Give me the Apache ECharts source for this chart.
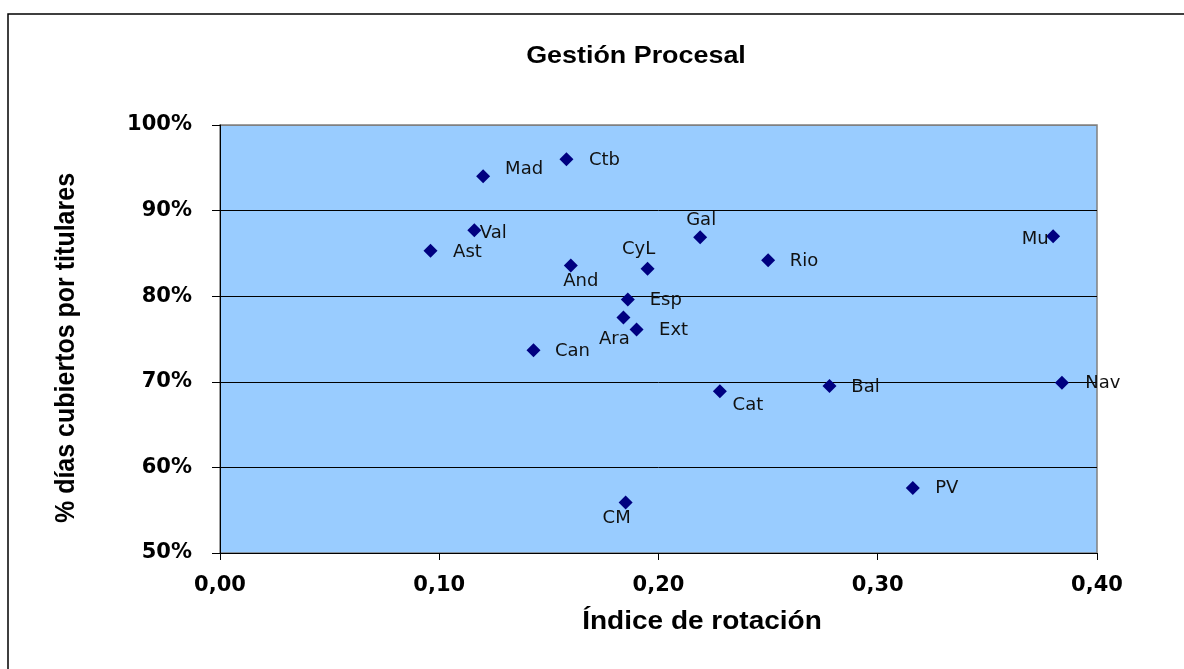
<!DOCTYPE html>
<html>
<head>
<meta charset="utf-8">
<script src="https://cdn.jsdelivr.net/npm/echarts@6/dist/echarts.min.js"></script>
<style>html,body{margin:0;padding:0;background:#fff}#c{width:1184px;height:669px}</style>
</head>
<body>
<div id="c"></div>
<script>
// ---- data ----
const regions = ['Mad','Ctb','Val','Ast','And','CyL','Gal','Rio','Mu','Esp','Ara','Ext','Can','Cat','Bal','Nav','CM','PV'];
const rotationIndex = [0.120,0.158,0.116,0.096,0.160,0.195,0.219,0.250,0.380,0.186,0.184,0.190,0.143,0.228,0.278,0.384,0.185,0.316];
const coveredDays = [94.0,96.0,87.7,85.3,83.6,83.2,86.9,84.2,87.0,79.6,77.5,76.1,73.7,68.9,69.5,69.9,55.9,57.6];
const chartTitle = 'Gestión Procesal';
const xTitle = 'Índice de rotación';
const yTitle = '% días cubiertos por titulares';

// ---- label placement (style only): label centre relative to marker centre ----
const labelOffsets = {
  Mad:[41,-7], Ctb:[38,1], Val:[19,3], Ast:[37,1], And:[10,16], CyL:[-9,-19],
  Gal:[1,-17], Rio:[36,1], Mu:[-18,3], Esp:[38,1], Ara:[-9,22], Ext:[37,1],
  Can:[39,1], Cat:[28,14], Bal:[36,1], Nav:[41,1], CM:[-9,16], PV:[34,0]
};
const SYM = 14;

const seriesData = regions.map((n, i) => ({
  name: n,
  value: [rotationIndex[i], coveredDays[i]],
  label: { position: [SYM / 2 + labelOffsets[n][0], SYM / 2 + labelOffsets[n][1]] }
}));

const chart = echarts.init(document.getElementById('c'), null, {renderer: 'canvas'});
chart.setOption({
  backgroundColor: '#ffffff',
  animation: false,
  grid: {
    left: 220, right: 87, top: 125, bottom: 116,
    show: true, backgroundColor: '#99CCFF', borderColor: '#808080', borderWidth: 1.5
  },
  xAxis: {
    type: 'value', min: 0, max: 0.4, interval: 0.1,
    axisLine: { show: true, onZero: false, lineStyle: { color: '#000', width: 1 } },
    axisTick: { show: true, inside: false, length: 7, lineStyle: { color: '#000' } },
    splitLine: { show: false },
    axisLabel: {
      margin: 22, color: '#000', fontFamily: 'DejaVu Sans', fontWeight: 'bold', fontSize: 21,
      formatter: v => v.toFixed(2).replace('.', ',')
    }
  },
  yAxis: {
    type: 'value', min: 50, max: 100, interval: 10,
    axisLine: { show: true, onZero: false, lineStyle: { color: '#000', width: 1 } },
    axisTick: { show: true, inside: false, length: 8, lineStyle: { color: '#000' } },
    splitLine: { show: true, lineStyle: { color: ['#000','#000','#000','#000','#000','#808080'], width: 1 } },
    axisLabel: {
      margin: 28, color: '#000', fontFamily: 'DejaVu Sans', fontWeight: 'bold', fontSize: 21,
      formatter: v => Math.round(v) + '%'
    }
  },
  series: [{
    type: 'scatter',
    symbol: 'diamond',
    symbolSize: SYM,
    itemStyle: { color: '#000080', opacity: 1 },
    label: {
      show: true, formatter: '{b}',
      color: '#111', fontFamily: 'DejaVu Sans', fontSize: 18,
      align: 'center', verticalAlign: 'middle'
    },
    labelLayout: { hideOverlap: false },
    data: seriesData
  }],
  graphic: [
    { type: 'rect', shape: { x: 8, y: 14, width: 1200, height: 700 },
      style: { fill: 'none', stroke: '#000', lineWidth: 1.5 }, silent: true, z: -10 },
    { type: 'text', x: 636, y: 56, scaleX: 1.12,
      style: { text: chartTitle, x: 0, y: 0, fill: '#000', font: 'bold 24px "Liberation Sans", Arial, sans-serif',
               textAlign: 'center', textVerticalAlign: 'middle' } },
    { type: 'text', x: 702, y: 622, scaleX: 1.12,
      style: { text: xTitle, x: 0, y: 0, fill: '#000', font: 'bold 25px "Liberation Sans", Arial, sans-serif',
               textAlign: 'center', textVerticalAlign: 'middle' } },
    { type: 'text', x: 66, y: 348, rotation: Math.PI / 2, scaleY: 1.12,
      style: { text: yTitle, x: 0, y: 0, fill: '#000', font: 'bold 25px "Liberation Sans", Arial, sans-serif',
               textAlign: 'center', textVerticalAlign: 'middle' } }
  ]
});
</script>
</body>
</html>
